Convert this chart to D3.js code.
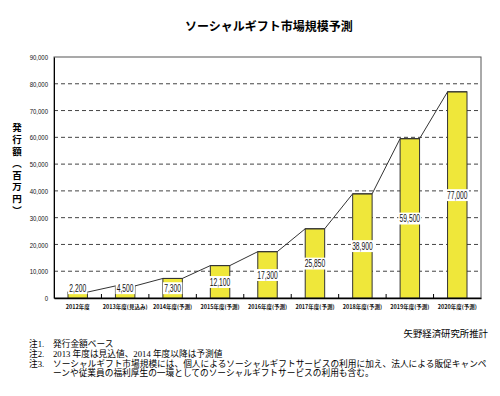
<!DOCTYPE html>
<html>
<head>
<meta charset="utf-8">
<script src="https://cdn.jsdelivr.net/npm/d3@7"></script>
<style>
  body { margin: 0; background: #fff; }
  svg { display: block; }
</style>
</head>
<body>
<div class="chart"></div>
<script>
// Data.
const categories = [
  "2012年度",
  "2013年度(見込み)",
  "2014年度(予測)",
  "2015年度(予測)",
  "2016年度(予測)",
  "2017年度(予測)",
  "2018年度(予測)",
  "2019年度(予測)",
  "2020年度(予測)",
];
const values = [2200, 4500, 7300, 12100, 17300, 25850, 38900, 59500, 77000];
const yTicks = [0, 10000, 20000, 30000, 40000, 50000, 60000, 70000, 80000, 90000];
const yTitle = "発行額（百万円）";
const notes = [
  ["注1.", "発行金額ベース"],
  ["注2.", "2013 年度は見込値、2014 年度以降は予測値"],
  ["注3.", "ソーシャルギフト市場規模には、個人によるソーシャルギフトサービスの利用に加え、法人による販促キャンペ"],
  ["", "ーンや従業員の福利厚生の一環としてのソーシャルギフトサービスの利用も含む。"],
];

const width = 500;
const height = 396;
const plot = { left: 54, right: 481, top: 57, bottom: 298 };
const sans = "'Liberation Sans', Arial, sans-serif";
const jp = "'Noto Sans CJK JP', sans-serif";
const serifJp = "'Liberation Serif', 'Noto Sans CJK JP', serif";

const svg = d3
  .select(".chart")
  .append("svg")
  .attr("width", width)
  .attr("height", height);

// Scales.
const xScale = d3
  .scaleBand()
  .domain(categories)
  .range([plot.left, plot.right])
  .paddingInner(0.59)
  .paddingOuter(0.295);

const yScale = d3.scaleLinear().domain([0, 90000]).range([plot.bottom, plot.top]);

// Title.
svg
  .append("text")
  .attr("x", 269)
  .attr("y", 31)
  .attr("text-anchor", "middle")
  .style("font-family", jp)
  .style("font-weight", "bold")
  .style("font-size", "12px")
  .text("ソーシャルギフト市場規模予測");

// Grid lines.
svg
  .append("g")
  .attr("class", "grid")
  .selectAll("line")
  .data(yTicks.filter((d) => d > 0 && d < 90000))
  .join("line")
  .attr("x1", plot.left)
  .attr("x2", plot.right)
  .attr("y1", (d) => yScale(d))
  .attr("y2", (d) => yScale(d))
  .attr("stroke", "#444")
  .attr("stroke-width", 1)
  .attr("stroke-dasharray", "4,3");

// Plot frame.
svg
  .append("rect")
  .attr("x", plot.left)
  .attr("y", plot.top)
  .attr("width", plot.right - plot.left)
  .attr("height", plot.bottom - plot.top)
  .attr("fill", "none")
  .attr("stroke", "#555")
  .attr("stroke-width", 1);

// Bars.
svg
  .append("g")
  .attr("class", "bars")
  .selectAll("rect")
  .data(values)
  .join("rect")
  .attr("x", (d, i) => xScale(categories[i]))
  .attr("y", (d) => yScale(d))
  .attr("width", xScale.bandwidth())
  .attr("height", (d) => plot.bottom - yScale(d))
  .attr("fill", "#efe73a")
  .attr("stroke", "#333")
  .attr("stroke-width", 1);

// Series line (joins bar tops).
const pts = [];
values.forEach((v, i) => {
  const x0 = xScale(categories[i]);
  pts.push([x0, yScale(v)]);
  pts.push([x0 + xScale.bandwidth(), yScale(v)]);
});
svg
  .append("path")
  .attr("d", d3.line()(pts))
  .attr("fill", "none")
  .attr("stroke", "#333")
  .attr("stroke-width", 1);

// Axes.
const yAxis = d3
  .axisLeft(yScale)
  .tickValues(yTicks)
  .tickSize(0)
  .tickPadding(8)
  .tickFormat(d3.format(","));
const yAxisDraw = svg
  .append("g")
  .attr("transform", `translate(${plot.left},0)`)
  .call(yAxis);
yAxisDraw.select(".domain").attr("stroke", "#000");
yAxisDraw
  .selectAll("text")
  .attr("transform", "scale(0.75,1)")
  .style("font-family", sans)
  .style("font-size", "8px")
  .attr("fill", "#111");

const xAxis = d3.axisBottom(xScale).tickSize(0).tickPadding(7);
const xAxisDraw = svg
  .append("g")
  .attr("transform", `translate(0,${plot.bottom})`)
  .call(xAxis);
xAxisDraw.select(".domain").attr("stroke", "#000").attr("stroke-width", 1.5);
xAxisDraw
  .selectAll("text")
  .style("font-family", jp)
  .style("font-weight", "bold")
  .style("font-size", "5.5px")
  .attr("fill", "#111");

// Category separators (ticks pointing into plot).
svg
  .append("g")
  .selectAll("line")
  .data(categories.slice(1))
  .join("line")
  .attr("x1", (d) => xScale(d) - (xScale.step() - xScale.bandwidth()) / 2)
  .attr("x2", (d) => xScale(d) - (xScale.step() - xScale.bandwidth()) / 2)
  .attr("y1", plot.bottom)
  .attr("y2", plot.bottom - 4)
  .attr("stroke", "#000");

// Data labels with white boxes (condensed by a horizontal scale).
const labels = svg
  .append("g")
  .attr("class", "labels")
  .selectAll("g")
  .data(values)
  .join("g")
  .attr("transform", (d, i) => {
    const cx = xScale(categories[i]) + xScale.bandwidth() / 2;
    const cy = Math.min(yScale(d / 2), 288);
    return `translate(${cx},${cy}) scale(0.64,1)`;
  });
labels
  .append("text")
  .attr("text-anchor", "middle")
  .attr("dy", "0.36em")
  .style("font-family", sans)
  .style("font-size", "10.5px")
  .attr("fill", "#111")
  .text((d) => d3.format(",")(d));
labels.each(function () {
  const g = d3.select(this);
  const bb = g.select("text").node().getBBox();
  g.insert("rect", "text")
    .attr("x", bb.x - 2)
    .attr("y", bb.y)
    .attr("width", bb.width + 4)
    .attr("height", bb.height)
    .attr("fill", "#fff");
});

// Y axis title (vertical writing).
svg
  .append("text")
  .attr("x", 17)
  .attr("y", 123)
  .style("writing-mode", "vertical-rl")
  .style("font-family", jp)
  .style("font-weight", "bold")
  .style("font-size", "9.5px")
  .style("letter-spacing", "2.3px")
  .text(yTitle);

// Source.
svg
  .append("text")
  .attr("x", 488)
  .attr("y", 337)
  .attr("text-anchor", "end")
  .style("font-family", serifJp)
  .style("font-size", "9.4px")
  .text("矢野経済研究所推計");

// Notes.
const noteRows = svg
  .append("g")
  .selectAll("g")
  .data(notes)
  .join("g")
  .attr("transform", (d, i) => `translate(0,${347 + i * 9.8})`);
noteRows
  .append("text")
  .attr("x", 29)
  .style("font-family", serifJp)
  .style("font-size", "8.7px")
  .text((d) => d[0]);
noteRows
  .append("text")
  .attr("x", 53)
  .style("font-family", serifJp)
  .style("font-size", "8.7px")
  .text((d) => d[1]);
</script>
</body>
</html>
